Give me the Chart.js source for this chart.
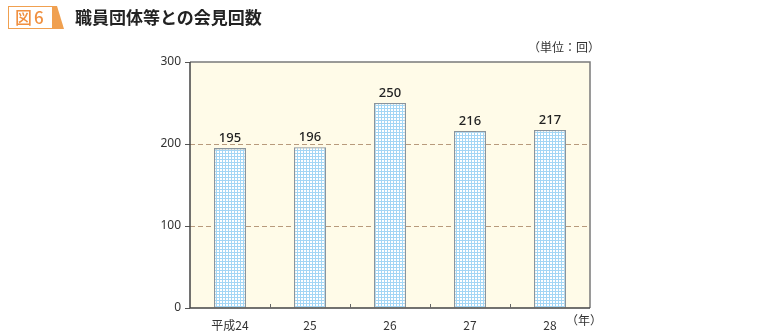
<!DOCTYPE html>
<html><head><meta charset="utf-8">
<script src="https://cdn.jsdelivr.net/npm/chart.js@4/dist/chart.umd.min.js"></script>
<style>
html,body{margin:0;padding:0;background:#fff;width:760px;height:335px;overflow:hidden;font-family:"Noto Sans CJK JP","Noto Sans",sans-serif;}
#wrap{position:relative;width:760px;height:335px;}
canvas{position:absolute;left:0;top:0;}
.badge{position:absolute;left:8px;top:6px;width:46px;height:23px;border:1.5px solid #f0a050;border-right:none;box-sizing:border-box;color:#f09040;font-size:17px;font-weight:500;line-height:20px;padding-left:6px;letter-spacing:2px;}
.title{position:absolute;left:75px;top:4px;font-size:17px;font-weight:bold;color:#222;}
.unit{position:absolute;left:528px;top:38px;font-size:12px;color:#333;}
.nen{position:absolute;left:566px;top:311px;font-size:12px;color:#333;}
</style></head>
<body><div id="wrap">
<canvas id="c" width="760" height="335"></canvas>
<div class="badge">図6</div>
<svg style="position:absolute;left:52px;top:6px" width="14" height="23"><polygon points="0,0 5,0 12,23 0,23" fill="#f0a050"/></svg>
<div class="title">職員団体等との会見回数</div>
<div class="unit">（単位：回）</div>
<div class="nen">（年）</div>
</div>
<script>
const categories = ["平成24", "25", "26", "27", "28"];
const values = [195, 196, 250, 216, 217];
const yTicks = [0, 100, 200, 300];

function makePattern(){
  const p = document.createElement('canvas'); p.width = 3; p.height = 3;
  const g = p.getContext('2d');
  g.fillStyle = '#ffffff'; g.fillRect(0,0,3,3);
  g.fillStyle = '#a3d6f5'; g.fillRect(0,0,3,1); g.fillRect(0,0,1,3);
  return document.getElementById('c').getContext('2d').createPattern(p,'repeat');
}

const decor = {
  id:'decor',
  beforeDraw(chart){
    const {ctx, chartArea:a} = chart;
    ctx.save(); ctx.fillStyle = '#fffbe8';
    ctx.fillRect(a.left, a.top, a.right-a.left, a.bottom-a.top);
    ctx.restore();
  },
  afterDatasetsDraw(chart){
    const {ctx, chartArea:a, scales} = chart;
    ctx.save();
    ctx.strokeStyle = '#7a7a7a'; ctx.lineWidth = 1.5;
    ctx.beginPath();
    ctx.moveTo(a.left, a.top); ctx.lineTo(a.right, a.top); ctx.lineTo(a.right, a.bottom);
    ctx.stroke();
    ctx.strokeStyle = '#444'; ctx.beginPath();
    ctx.moveTo(a.left, a.top); ctx.lineTo(a.left, a.bottom); ctx.lineTo(a.right, a.bottom);
    ctx.stroke();
    const x = scales.x; ctx.strokeStyle = '#666'; ctx.lineWidth = 1;
    for (let i = 0; i < categories.length - 1; i++){
      const xx = Math.round((x.getPixelForValue(i) + x.getPixelForValue(i+1))/2) + 0.5;
      ctx.beginPath(); ctx.moveTo(xx, a.bottom); ctx.lineTo(xx, a.bottom-4); ctx.stroke();
    }
    const meta = chart.getDatasetMeta(0);
    ctx.fillStyle = '#222'; ctx.font = '500 13px "Noto Sans", sans-serif';
    ctx.textAlign = 'center'; ctx.textBaseline = 'bottom';
    meta.data.forEach((bar, i) => { ctx.fillText(String(values[i]), bar.x, bar.y - 3); });
    ctx.restore();
  }
};

new Chart(document.getElementById('c'), {
  type: 'bar',
  data: { labels: categories, datasets: [{
    data: values, backgroundColor: makePattern(), borderColor: '#8a949c', borderWidth: 1.3,
    barPercentage: 0.4, categoryPercentage: 1.0 }] },
  options: {
    responsive: false, animation: false,
    layout: { padding: { left: 150, right: 170, top: 62, bottom: 0 } },
    plugins: { legend: { display: false }, tooltip: { enabled: false } },
    scales: {
      x: {
        grid: { display: false },
        border: { display: false },
        ticks: { color: '#333', font: { size: 12, family: '"Noto Sans CJK JP", "Noto Sans", sans-serif' }, padding: 2 },
        afterFit(s){ s.height = 27; }
      },
      y: {
        min: 0, max: 300,
        afterBuildTicks(s){ s.ticks = yTicks.map(v => ({ value: v })); },
        grid: {
          color: c => (c.tick && (c.tick.value === 100 || c.tick.value === 200)) ? '#b89a7c' : 'rgba(0,0,0,0)',
          lineWidth: 1, tickLength: 5, tickColor: '#555', tickBorderDash: []
        },
        border: { display: false, dash: [5, 3] },
        ticks: { color: '#333', font: { size: 12, family: '"Noto Sans", sans-serif' }, padding: 4 },
        afterFit(s){ s.width = 40; }
      }
    }
  },
  plugins: [decor]
});
</script>
</body></html>
